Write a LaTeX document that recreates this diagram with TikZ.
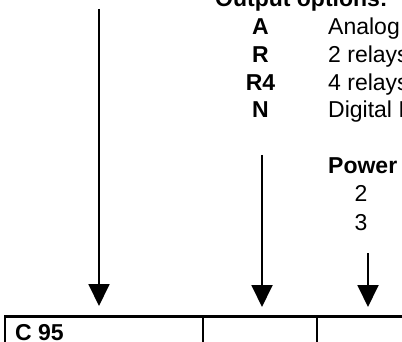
\documentclass[tikz,border=0pt]{standalone}
\usepackage{fontspec}
\setmainfont{Liberation Sans}
\usetikzlibrary{arrows.meta}
\tikzset{
  txt/.style={inner sep=0pt, font=\fontsize{23}{28}\selectfont},
  code/.style={txt, font=\fontsize{23}{28}\selectfont\bfseries, anchor=base},
  desc/.style={txt, anchor=base west},
  ptr/.style={line width=1.9pt, -{Triangle[width=21pt,length=22pt]}},
  tbl/.style={line width=2.4pt}
}
\begin{document}
\begin{tikzpicture}[x=1pt,y=-1pt]
\useasboundingbox (0,0) rectangle (402,342);
\clip (0,0) rectangle (402,342);
% heading and options
\node[desc, font=\fontsize{23}{28}\selectfont\bfseries] (hd) at (215,7) {Output options:};
\node[code] (cA) at (260.5,35) {A};
\node[desc] (dA) at (328,35) {Analog};
\node[code] (cR) at (260.5,63) {R};
\node[desc] (dR) at (328,63) {2 relays};
\node[code] (cR4) at (260.5,91) {R4};
\node[desc] (dR4) at (328,91) {4 relays};
\node[code] (cN) at (260.5,118) {N};
\node[desc] (dN) at (328,118) {Digital I};
% power
\node[desc, font=\fontsize{23}{28}\selectfont\bfseries] (pw) at (328,174) {Power};
\node[txt, anchor=base] (p2) at (361,202) {2};
\node[txt, anchor=base] (p3) at (361,230) {3};
% arrows
\coordinate (s1) at (99,9);
\coordinate (e1) at (99,306);
\coordinate (s2) at (262,155);
\coordinate (e2) at (262,307);
\coordinate (s3) at (368,253);
\coordinate (e3) at (368,307);
\draw[ptr] (s1) -- (e1);
\draw[ptr] (s2) -- (e2);
\draw[ptr] (s3) -- (e3);
% table
\coordinate (tl) at (5,316.5);
\coordinate (tr) at (410,316.5);
\coordinate (d1) at (203,316.5);
\coordinate (d2) at (317,316.5);
\draw[tbl] (tr) -- (tl) -- (5,350);
\draw[tbl] (d1) -- (203,350);
\draw[tbl] (d2) -- (317,350);
\node[desc, font=\fontsize{23}{28}\selectfont\bfseries] (c95) at (15,340.5) {C 95};
\end{tikzpicture}
\end{document}
